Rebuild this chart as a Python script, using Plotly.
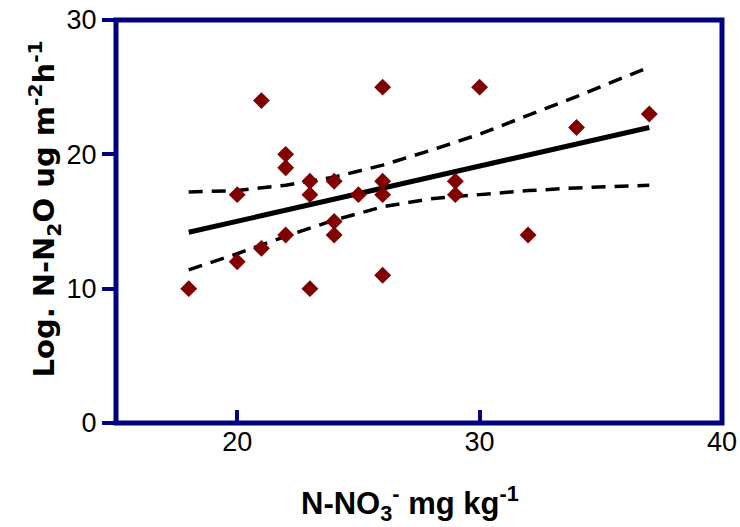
import plotly.graph_objects as go

# Scatter data: nitrate (x) vs N2O flux (y)
no3 = [18, 20, 20, 21, 21, 22, 22, 22, 23, 23, 23, 24, 24, 24, 25, 26, 26, 26, 26, 29, 29, 30, 32, 34, 37]
n2o = [10, 17, 12, 24, 13, 20, 19, 14, 18, 17, 10, 18, 15, 14, 17, 25, 18, 17, 11, 18, 17, 25, 14, 22, 23]

# Fitted regression line
fit_x = [18, 37]
fit_y = [14.2, 22.0]

# Confidence bands
band_x = [18, 20, 22, 24, 26, 28, 30, 32, 34, 37]
band_upper = [17.2, 17.3, 17.7, 18.3, 19.2, 20.3, 21.5, 22.9, 24.3, 26.5]
band_lower = [11.4, 12.6, 13.9, 15.1, 16.1, 16.7, 17.0, 17.3, 17.5, 17.7]

x_ticks = [20, 30, 40]
y_ticks = [0, 10, 20, 30]

NAVY = "#000080"
FONT = "Liberation Sans, Arial, sans-serif"

fig = go.Figure()
fig.add_trace(go.Scatter(x=band_x, y=band_upper, mode="lines",
                         line=dict(color="black", width=3.5, dash="14px,9px"), showlegend=False))
fig.add_trace(go.Scatter(x=band_x, y=band_lower, mode="lines",
                         line=dict(color="black", width=3.5, dash="14px,9px"), showlegend=False))
fig.add_trace(go.Scatter(x=fit_x, y=fit_y, mode="lines",
                         line=dict(color="black", width=5), showlegend=False))
fig.add_trace(go.Scatter(x=no3, y=n2o, mode="markers",
                         marker=dict(symbol="diamond", size=13, color="#800000"), showlegend=False))

fig.update_layout(
    width=740, height=527,
    margin=dict(l=116, r=18, t=20, b=104),
    paper_bgcolor="white", plot_bgcolor="white",
    font=dict(family=FONT, size=27, color="black"),
    xaxis=dict(range=[15, 40], tickvals=x_ticks, ticks="inside", ticklen=13, tickwidth=4,
               tickcolor=NAVY, showgrid=False, zeroline=False, showline=False,
               automargin=False, ticklabeloverflow="allow", tickfont=dict(size=27)),
    yaxis=dict(range=[0, 30], tickvals=y_ticks, ticks="outside", ticklen=13, tickwidth=4,
               tickcolor=NAVY, showgrid=False, zeroline=False, showline=False,
               automargin=False, ticklabeloverflow="allow", tickfont=dict(size=27)),
    shapes=[dict(type="rect", xref="paper", yref="paper", x0=0, x1=1, y0=0, y1=1,
                 line=dict(color=NAVY, width=5))],
    annotations=[
        dict(text="<b>N-NO<sub>3</sub><sup>-</sup> mg kg<sup>-1</sup></b>", xref="paper", yref="paper",
             x=0.485, y=-0.2, xanchor="center", yanchor="middle", showarrow=False,
             font=dict(size=31, family=FONT)),
        dict(text="<b>Log. N-N<sub>2</sub>O ug m<sup>-2</sup>h<sup>-1</sup></b>", xref="paper", yref="paper",
             x=-0.119, y=0.532, xanchor="center", yanchor="middle", showarrow=False, textangle=-90,
             font=dict(size=29, family="DejaVu Sans, sans-serif")),
    ],
)

fig.write_html("out.html")
